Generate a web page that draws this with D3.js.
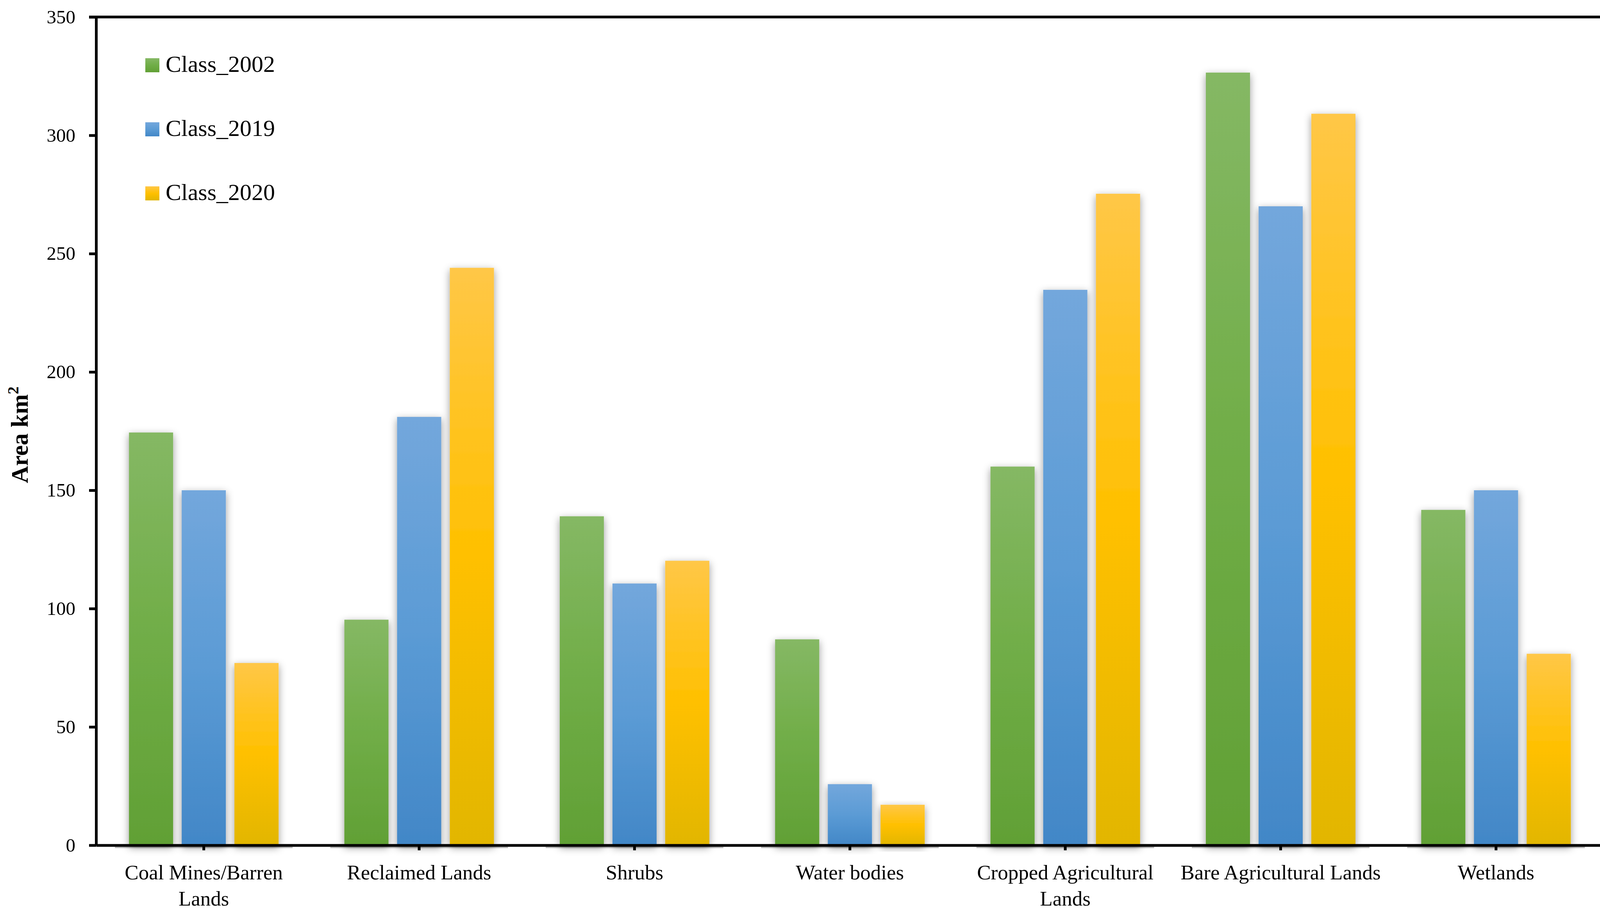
<!DOCTYPE html>
<html>
<head>
<meta charset="utf-8">
<script src="https://cdn.jsdelivr.net/npm/d3@7"></script>
<style>
body { margin: 0; background: #fff; }
svg { display: block; }
</style>
</head>
<body>
<div id="chart"></div>
<script>
//chart data
var categories = ["Coal Mines/Barren Lands", "Reclaimed Lands", "Shrubs", "Water bodies",
  "Cropped Agricultural Lands", "Bare Agricultural Lands", "Wetlands"];
var seriesNames = ["Class_2002", "Class_2019", "Class_2020"];
var class2002 = [174.4, 95.3, 139, 87, 160, 326.5, 141.7];
var class2019 = [150, 181, 110.6, 25.8, 234.7, 270, 150];
var class2020 = [77, 244, 120.2, 17.1, 275.3, 309.1, 80.9];
var yTicks = [0, 50, 100, 150, 200, 250, 300, 350];

//define screen size and plot box
var W = 4142, H = 2337;
var plotL = 246, plotR = 4105.5, plotT = 43.5, plotB = 2163.5;
var font = "'Palatino Linotype', 'Book Antiqua', Palatino, 'Liberation Serif', serif";
var lw = 7;

// top / mid / bottom colours of each gradient
var grads = [
  ["#85b864", "#70ad47", "#61a035"],
  ["#73a7dc", "#5b9bd5", "#4287c7"],
  ["#ffc747", "#ffc000", "#e2b600"]
];

var svg = d3.select("#chart").append("svg")
  .attr("width", W)
  .attr("height", H);

var defs = svg.append("defs");

grads.forEach(function (g, i) {
  var lg = defs.append("linearGradient")
    .attr("id", "g" + i)
    .attr("x1", 0).attr("y1", 0).attr("x2", 0).attr("y2", 1);
  lg.append("stop").attr("offset", "0%").attr("stop-color", g[0]);
  lg.append("stop").attr("offset", "50%").attr("stop-color", g[1]);
  lg.append("stop").attr("offset", "100%").attr("stop-color", g[2]);
});

var f = defs.append("filter").attr("id", "shadow")
  .attr("x", "-40%").attr("y", "-10%").attr("width", "180%").attr("height", "125%");
f.append("feDropShadow")
  .attr("dx", 0).attr("dy", 6)
  .attr("stdDeviation", 10)
  .attr("flood-color", "#000")
  .attr("flood-opacity", 0.4);

var x0 = d3.scaleBand()
  .domain(categories)
  .range([plotL, plotR])
  .paddingInner(0.3054)
  .paddingOuter(0.1527);

var x1 = d3.scaleBand()
  .domain(seriesNames)
  .range([0, x0.bandwidth()])
  .paddingInner(0.163);

var y = d3.scaleLinear()
  .domain([0, 350])
  .range([plotB, plotT]);

var rows = categories.map(function (c, i) {
  return { cat: c, vals: [class2002[i], class2019[i], class2020[i]] };
});

// bars
var groups = svg.append("g").selectAll("g")
  .data(rows)
  .enter()
  .append("g")
  .attr("transform", function (d) { return "translate(" + x0(d.cat) + ",0)"; });

// faint shadow strip under each group
groups.append("rect")
  .attr("x", -36)
  .attr("y", plotB + lw / 2)
  .attr("width", x0.bandwidth() + 72)
  .attr("height", 4)
  .style("fill", "#bdbdbd");

groups.selectAll(".bar")
  .data(function (d) { return d.vals.map(function (v, j) { return { s: seriesNames[j], v: v, j: j }; }); })
  .enter()
  .append("rect")
  .attr("class", "bar")
  .attr("x", function (d) { return x1(d.s); })
  .attr("y", function (d) { return y(d.v); })
  .attr("width", x1.bandwidth())
  .attr("height", function (d) { return plotB - y(d.v); })
  .style("fill", function (d) { return "url(#g" + d.j + ")"; })
  .attr("filter", "url(#shadow)");

// y axis
var yAxis = svg.append("g")
  .attr("transform", "translate(" + plotL + ",0)")
  .call(d3.axisLeft(y).tickValues(yTicks).tickSize(18).tickSizeOuter(0).tickPadding(35));

// x axis
var xAxis = svg.append("g")
  .attr("transform", "translate(0," + plotB + ")")
  .call(d3.axisBottom(x0).tickSize(13).tickSizeOuter(0).tickFormat(""));

[yAxis, xAxis].forEach(function (a) {
  a.selectAll("path, line").attr("stroke", "#000").attr("stroke-width", lw);
});
yAxis.selectAll("text")
  .style("font-family", font)
  .style("font-size", "49px")
  .attr("fill", "#000");

// frame top and right
svg.append("line")
  .attr("x1", plotL - 18).attr("x2", plotR + lw / 2)
  .attr("y1", plotT).attr("y2", plotT)
  .attr("stroke", "#000").attr("stroke-width", lw);
svg.append("line")
  .attr("x1", plotR).attr("x2", plotR)
  .attr("y1", plotT).attr("y2", plotB + 13)
  .attr("stroke", "#000").attr("stroke-width", lw);

// category labels, wrapped when wider than the band step
function wrapWords(txt, maxW, size) {
  var tmp = svg.append("text").style("font-family", font).style("font-size", size + "px");
  var words = txt.split(" "), lines = [], cur = "";
  words.forEach(function (w) {
    var test = cur ? cur + " " + w : w;
    tmp.text(test);
    if (tmp.node().getComputedTextLength() > maxW && cur) {
      lines.push(cur);
      cur = w;
    } else {
      cur = test;
    }
  });
  lines.push(cur);
  tmp.remove();
  return lines;
}

categories.forEach(function (c) {
  var lines = wrapWords(c, 540, 53);
  var t = svg.append("text")
    .attr("text-anchor", "middle")
    .style("font-family", font)
    .style("font-size", "53px")
    .attr("fill", "#000");
  lines.forEach(function (l, k) {
    t.append("tspan")
      .attr("x", x0(c) + x0.bandwidth() / 2)
      .attr("y", plotB + 87 + k * 67)
      .text(l);
  });
});

// axis title
var title = svg.append("text")
  .attr("transform", "translate(71,1113) rotate(-90)")
  .attr("text-anchor", "middle")
  .style("font-family", font)
  .style("font-size", "61px")
  .style("font-weight", "bold")
  .attr("fill", "#000");
title.append("tspan").text("Area km");
title.append("tspan").attr("dy", -24).style("font-size", "40px").text("2");

// legend
var legend = svg.append("g").selectAll("g")
  .data(seriesNames)
  .enter()
  .append("g")
  .attr("transform", function (d, i) { return "translate(372," + (149 + i * 164) + ")"; });

legend.append("rect")
  .attr("width", 36)
  .attr("height", 36)
  .style("fill", function (d, i) { return "url(#g" + i + ")"; });

legend.append("text")
  .attr("x", 52)
  .attr("y", 35)
  .style("font-family", font)
  .style("font-size", "60px")
  .attr("fill", "#000")
  .text(function (d) { return d; });
</script>
</body>
</html>
